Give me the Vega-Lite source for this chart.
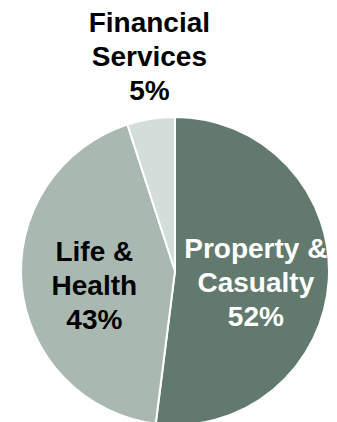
{
  "$schema": "https://vega.github.io/schema/vega-lite/v6.json",
  "autosize": "none",
  "width": 308,
  "height": 308,
  "padding": {"left": 21, "top": 117, "right": 8, "bottom": 0},
  "background": "white",
  "config": {"view": {"stroke": null}},
  "data": {
    "values": [
      {"segment": "Property & Casualty", "share": 52, "label": "Property &\nCasualty\n52%"},
      {"segment": "Life & Health", "share": 43, "label": "Life &\nHealth\n43%"},
      {"segment": "Financial Services", "share": 5, "label": "Financial\nServices\n5%"}
    ]
  },
  "encoding": {
    "theta": {"field": "share", "type": "quantitative", "stack": true},
    "order": {"field": "share", "type": "quantitative", "sort": "descending"}
  },
  "layer": [
    {
      "mark": {"type": "arc", "outerRadius": 154, "stroke": "white", "strokeWidth": 2},
      "encoding": {
        "color": {
          "field": "segment",
          "type": "nominal",
          "scale": {
            "domain": ["Property & Casualty", "Life & Health", "Financial Services"],
            "range": ["#627a6e", "#a9b9b1", "#d3ddd9"]
          },
          "legend": null
        }
      }
    },
    {
      "mark": {"type": "text", "radius": 81, "font": "Liberation Sans", "fontSize": 28, "fontWeight": "bold", "lineBreak": "\n", "lineHeight": 34, "align": "center", "baseline": "middle", "dy": -26},
      "encoding": {
        "text": {"field": "label"},
        "color": {"condition": {"test": "datum.segment === 'Property & Casualty'", "value": "white"}, "value": "black"},
        "opacity": {"condition": {"test": "datum.segment === 'Financial Services'", "value": 0}, "value": 1}
      }
    },
    {
      "mark": {"type": "text", "radius": 215, "font": "Liberation Sans", "fontSize": 28, "fontWeight": "bold", "lineBreak": "\n", "lineHeight": 34, "align": "center", "baseline": "middle", "dx": 8, "dy": -35},
      "encoding": {
        "text": {"field": "label"},
        "color": {"value": "black"},
        "opacity": {"condition": {"test": "datum.segment === 'Financial Services'", "value": 1}, "value": 0}
      }
    }
  ]
}
